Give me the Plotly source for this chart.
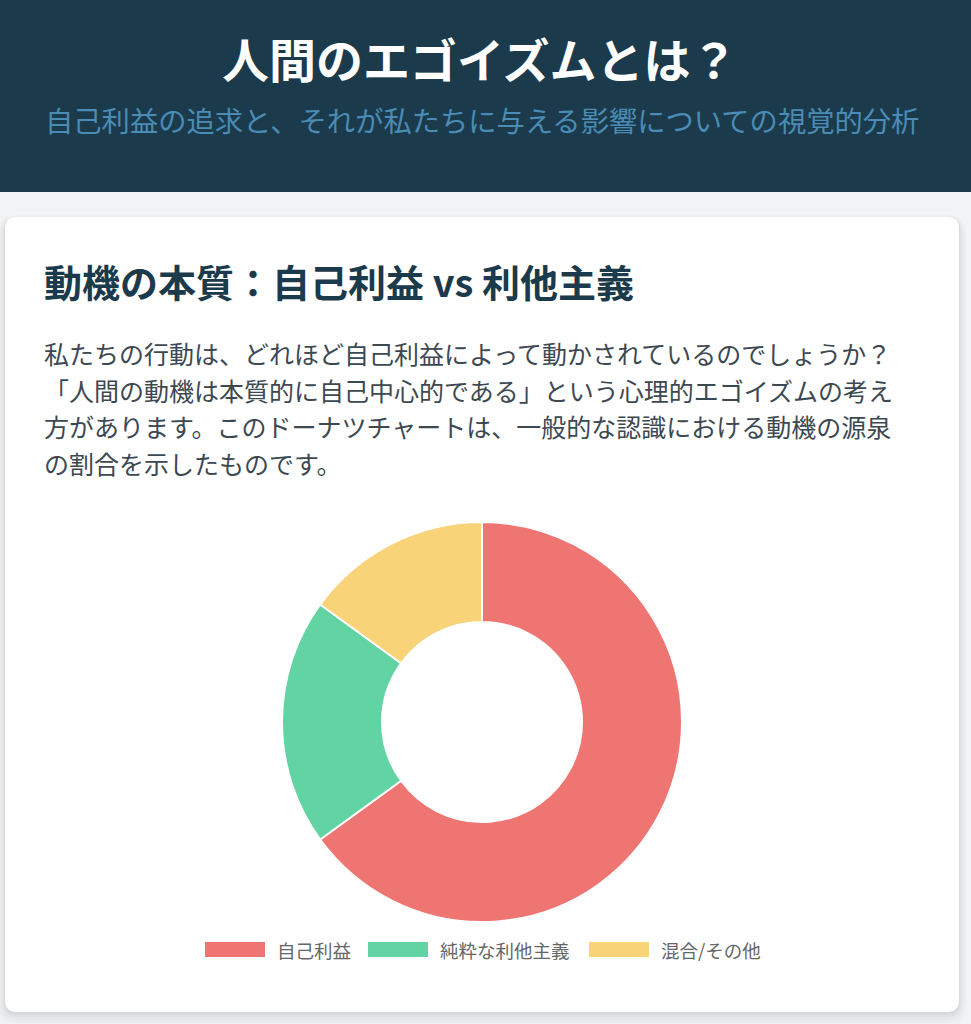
import plotly.graph_objects as go

# ---- data ----
categories = ["自己利益", "純粋な利他主義", "混合/その他"]
values = [65, 20, 15]
colors = ["#EE7571", "#62D3A3", "#F8D378"]

page_title = "人間のエゴイズムとは？"
page_subtitle = "自己利益の追求と、それが私たちに与える影響についての視覚的分析"
card_heading = "動機の本質：自己利益 vs 利他主義"
body_lines = [
    "私たちの行動は、どれほど自己利益によって動かされているのでしょうか？",
    "「人間の動機は本質的に自己中心的である」という心理的エゴイズムの考え",
    "方があります。このドーナツチャートは、一般的な認識における動機の源泉",
    "の割合を示したものです。",
]

W, H = 971, 1024
FONT = "Noto Sans CJK JP"


def px(x):
    return x / W


def py(y):
    return 1 - y / H


def rounded_rect(x0, y0, x1, y1, r):
    X0, X1 = px(x0), px(x1)
    Y0, Y1 = py(y0), py(y1)
    rx, ry = r / W, r / H
    return (
        f"M {X0+rx},{Y0} L {X1-rx},{Y0} Q {X1},{Y0} {X1},{Y0-ry} "
        f"L {X1},{Y1+ry} Q {X1},{Y1} {X1-rx},{Y1} "
        f"L {X0+rx},{Y1} Q {X0},{Y1} {X0},{Y1+ry} "
        f"L {X0},{Y0-ry} Q {X0},{Y0} {X0+rx},{Y0} Z"
    )


fig = go.Figure()

# donut
cx, cy, R = 482, 722, 200
fig.add_trace(go.Pie(
    labels=categories,
    values=values,
    marker=dict(colors=colors, line=dict(color="#ffffff", width=2)),
    hole=0.5,
    sort=False,
    direction="clockwise",
    rotation=0,
    textinfo="none",
    hoverinfo="label+percent",
    showlegend=False,
    domain=dict(x=[px(cx - R), px(cx + R)], y=[py(cy + R), py(cy - R)]),
))

shapes = []
# header band
shapes.append(dict(type="rect", xref="paper", yref="paper", x0=0, x1=1,
                   y0=py(192), y1=1, fillcolor="#1B3A4B", line=dict(width=0), layer="below"))
# soft card shadow (mostly below)
for spread, dy, op in [(8, 6, 0.012), (6, 5, 0.015), (4, 4, 0.02), (2, 3, 0.025), (1, 2, 0.03)]:
    shapes.append(dict(type="path", xref="paper", yref="paper",
                       path=rounded_rect(5 - spread, 217 - spread + dy, 959 + spread, 1012 + spread + dy, 12 + spread),
                       fillcolor=f"rgba(0,0,0,{op})", line=dict(width=0), layer="below"))
# card
shapes.append(dict(type="path", xref="paper", yref="paper",
                   path=rounded_rect(5, 217, 959, 1012, 12),
                   fillcolor="#ffffff", line=dict(width=0), layer="below"))

annotations = []
annotations.append(dict(text=f"<b>{page_title}</b>", xref="paper", yref="paper",
                        x=px(480), y=py(57), xanchor="center", yanchor="middle",
                        showarrow=False, font=dict(family=FONT, size=47, color="#ffffff")))
annotations.append(dict(text=page_subtitle, xref="paper", yref="paper",
                        x=px(482), y=py(119), xanchor="center", yanchor="middle",
                        showarrow=False, font=dict(family=FONT, size=28.3, color="#4A8CB5")))
annotations.append(dict(text=f"<b>{card_heading}</b>", xref="paper", yref="paper",
                        x=px(42), y=py(280), xanchor="left", yanchor="middle",
                        showarrow=False, font=dict(family=FONT, size=38, color="#1B3A4B")))
for i, line in enumerate(body_lines):
    annotations.append(dict(text=line, xref="paper", yref="paper",
                            x=px(42), y=py(353 + 36.7 * i), xanchor="left", yanchor="middle",
                            showarrow=False, font=dict(family=FONT, size=25, color="#3C4852")))

# custom legend
legend_x = [205, 368, 589]
box_w, box_y0, box_y1 = 60, 942, 957
for lx, lab, col in zip(legend_x, categories, colors):
    shapes.append(dict(type="rect", xref="paper", yref="paper",
                       x0=px(lx), x1=px(lx + box_w), y0=py(box_y1), y1=py(box_y0),
                       fillcolor=col, line=dict(width=0)))
    annotations.append(dict(text=lab, xref="paper", yref="paper",
                            x=px(lx + box_w + 10), y=py(949.5), xanchor="left", yanchor="middle",
                            showarrow=False, font=dict(family=FONT, size=18.5, color="#666666")))

fig.update_layout(
    width=W, height=H,
    margin=dict(l=0, r=0, t=0, b=0),
    paper_bgcolor="#F1F3F5",
    plot_bgcolor="#F1F3F5",
    shapes=shapes,
    annotations=annotations,
    showlegend=False,
)

fig.write_html(
    "out.html",
    config={"displayModeBar": False},
    post_script="document.body.style.margin='0';document.body.style.background='#F1F3F5';document.body.style.overflow='hidden';",
)
